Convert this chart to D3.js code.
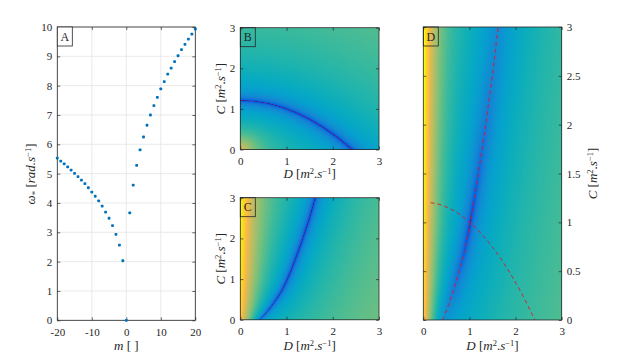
<!DOCTYPE html>
<html><head><meta charset="utf-8">
<script src="https://cdn.jsdelivr.net/npm/d3@7"></script>
<style>
body{margin:0;background:#fff}
svg text{font-family:"Liberation Serif","Times New Roman","DejaVu Serif",serif !important;fill:#262626}
</style>
</head><body>
<svg id="chart" width="618" height="360" font-family="Liberation Serif, serif"></svg>
<script>
// ---- Panel A data: mode number m and frequency omega_* ----
const modeNumbers = [-20,-19,-18,-17,-16,-15,-14,-13,-12,-11,-10,-9,-8,-7,-6,-5,-4,-3,-2,-1,0,1,2,3,4,5,6,7,8,9,10,11,12,13,14,15,16,17,18,19,20];
const omegaValues = [5.53,5.43,5.33,5.23,5.12,5.01,4.90,4.78,4.66,4.52,4.37,4.23,4.07,3.89,3.69,3.48,3.23,2.93,2.56,2.03,0,
                     3.66,4.61,5.28,5.81,6.25,6.65,7.00,7.32,7.60,7.89,8.14,8.39,8.60,8.82,9.02,9.23,9.41,9.59,9.76,9.93];
const ticksAx = [-20,-10,0,10,20];
const ticksAy = [0,1,2,3,4,5,6,7,8,9,10];

const curveB_D = [0,0.3,0.6,0.9,1.2,1.5,1.8,2.1,2.42];
const curveB_C = [1.21,1.19,1.136,1.043,0.912,0.745,0.541,0.299,0];
const curveC_D = [0.42,0.55,0.67,0.78,0.89,1.0,1.10,1.21,1.32,1.41,1.50,1.56,1.62];
const curveC_C = [0,0.16,0.33,0.51,0.70,0.95,1.22,1.55,1.89,2.20,2.51,2.75,3.0];
// dashed curves overlaid in panel D
const dashB_D = [0.16,0.3,0.6,0.9,1.2,1.5,1.8,2.1,2.42];
const dashB_C = [1.20,1.19,1.136,1.043,0.912,0.745,0.541,0.299,0];
const dashC_D = curveC_D;
const dashC_C = curveC_C;

const ticksBC = [0,1,2,3];
const ticksDy = [0,0.5,1,1.5,2,2.5,3];

// parula colormap (every other entry of the 64-step map)
const parulaPos = [0,2,4,6,8,10,12,14,16,18,20,22,24,26,28,30,32,34,36,38,40,42,44,46,48,50,52,54,56,58,60,62,63];
const parulaRGB = [[0.2081,0.1663,0.5292],[0.2123,0.2138,0.6270],[0.1959,0.2645,0.7279],[0.1253,0.3242,0.8303],[0.0117,0.3875,0.8820],[0.0165,0.4266,0.8786],[0.0498,0.4586,0.8641],[0.0723,0.4887,0.8467],[0.0793,0.5200,0.8312],[0.0641,0.5570,0.8240],[0.0343,0.5966,0.8199],[0.0239,0.6287,0.8038],[0.0228,0.6535,0.7768],[0.0384,0.6743,0.7436],[0.0843,0.6928,0.7062],[0.1453,0.7098,0.6646],[0.2178,0.7250,0.6193],[0.3022,0.7376,0.5712],[0.3953,0.7459,0.5244],[0.4871,0.7491,0.4840],[0.5709,0.7485,0.4494],[0.6473,0.7456,0.4188],[0.7184,0.7411,0.3905],[0.7858,0.7356,0.3633],[0.8507,0.7299,0.3360],[0.9139,0.7258,0.3063],[0.9739,0.7314,0.2666],[0.9990,0.7653,0.2164],[0.9880,0.8066,0.1794],[0.9697,0.8481,0.1475],[0.9589,0.8949,0.1132],[0.9661,0.9514,0.0755],[0.9763,0.9831,0.0538]];

const svg = d3.select("#chart");
const INK = "#262626";
const SERIF = '"Liberation Serif","Times New Roman",serif';

// scales
const xA = d3.scaleLinear([-20,20],[57.3,195.3]);
const yA = d3.scaleLinear([0,10],[320.3,27]);
const xB = d3.scaleLinear([0,3],[240.3,379]);
const yB = d3.scaleLinear([0,3],[149.5,27.7]);
const xC = d3.scaleLinear([0,3],[240.3,379]);
const yC = d3.scaleLinear([0,3],[319.8,197.7]);
const xD = d3.scaleLinear([0,3],[423.3,561.7]);
const yD = d3.scaleLinear([0,3],[320,27]);

// colormap LUT
const cscale = d3.scaleLinear().domain(parulaPos.map(p=>p/63))
  .range(parulaRGB.map(c=>d3.rgb(c[0]*255,c[1]*255,c[2]*255))).clamp(true);
const LUT = d3.range(512).map(i=>d3.rgb(cscale(i/511)));

// signed distance (data units) from point to polyline, ends extended
function signedDist(px,py,xs,ys){
  let best=Infinity,sgn=1;const n=xs.length;
  for(let k=0;k<n-1;k++){
    const ax=xs[k],ay=ys[k],dx=xs[k+1]-ax,dy=ys[k+1]-ay;
    let t=((px-ax)*dx+(py-ay)*dy)/(dx*dx+dy*dy);
    if(k>0&&t<0)t=0; if(k<n-2&&t>1)t=1;
    const d=Math.hypot(ax+t*dx-px,ay+t*dy-py);
    if(d<best){best=d;sgn=(dx*(py-ay)-dy*(px-ax))>=0?1:-1;}
  }
  return best*sgn;
}
const PXU = 46; // virtual px per data unit

function fieldB(D,C){
  const u = signedDist(D,C,curveB_D,curveB_C)*PXU; // + outside
  let t = 0.09*Math.log(Math.abs(u)+0.15)+0.11;
  if(u<0) t += 0.33*Math.exp(-Math.hypot(D,C)/0.33);
  return t;
}
function fieldC(D,C){
  const u = signedDist(D,C,curveC_D,curveC_C)*PXU;
  return 0.1*Math.log(Math.abs(u)+0.15)+0.12 + 0.48*Math.exp(-D/0.3);
}
function fieldD(D,C){
  const uc = signedDist(D,C,curveC_D,curveC_C)*PXU;
  const ub = signedDist(D,C,curveB_D,curveB_C)*PXU;
  const comb = Math.hypot(uc, 0.08*ub);
  return 0.1*Math.log(comb+0.3)+0.08 + 0.55*Math.exp(-D/0.24);
}

function heat(xS,yS,fn){
  const left=Math.round(xS.range()[0]), right=Math.round(xS.range()[1]);
  const top=Math.round(yS.range()[1]), bottom=Math.round(yS.range()[0]);
  const w=right-left,h=bottom-top;
  const cv=document.createElement("canvas");cv.width=w;cv.height=h;
  const ctx=cv.getContext("2d");const img=ctx.createImageData(w,h);
  for(let j=0;j<h;j++)for(let i=0;i<w;i++){
    const D=xS.invert(left+i+0.5),C=yS.invert(top+j+0.5);
    let t=fn(D,C); t=Math.max(0,Math.min(1,t));
    const c=LUT[Math.round(t*511)];const o=(j*w+i)*4;
    img.data[o]=c.r;img.data[o+1]=c.g;img.data[o+2]=c.b;img.data[o+3]=255;
  }
  ctx.putImageData(img,0,0);
  svg.append("image").attr("x",left).attr("y",top).attr("width",w).attr("height",h)
    .attr("preserveAspectRatio","none").attr("href",cv.toDataURL());
}

const fmt = d=>String(d);
function frame(xS,yS,xt,yt,rightLabels){
  const [xl,xr]=xS.range(),[yb,ytop]=yS.range();
  const style=g=>{g.attr("font-family",SERIF);g.select(".domain").remove();g.selectAll("line").attr("stroke",INK).attr("stroke-width",0.7);
    g.selectAll("text").style("font-size","11px").attr("fill",INK).style("font-family",SERIF);};
  svg.append("g").attr("transform",`translate(0,${yb})`).call(d3.axisBottom(xS).tickValues(xt).tickSize(-3).tickPadding(7.5).tickFormat(fmt)).call(style);
  svg.append("g").attr("transform",`translate(0,${ytop})`).call(d3.axisTop(xS).tickValues(xt).tickSize(-3).tickFormat("")).call(style);
  svg.append("g").attr("transform",`translate(${xl},0)`).call(d3.axisLeft(yS).tickValues(yt).tickSize(-3).tickPadding(5).tickFormat(rightLabels?"":fmt)).call(style);
  svg.append("g").attr("transform",`translate(${xr},0)`).call(d3.axisRight(yS).tickValues(yt).tickSize(-3).tickPadding(5).tickFormat(rightLabels?fmt:"")).call(style);
  svg.append("rect").attr("x",xl).attr("y",ytop).attr("width",xr-xl).attr("height",yb-ytop)
    .attr("fill","none").attr("stroke",INK).attr("stroke-width",0.8);
}
function tag(xS,yS,letter,fill){
  const x0=xS.range()[0],y0=yS.range()[1];
  svg.append("rect").attr("x",x0).attr("y",y0).attr("width",15).attr("height",19)
    .attr("fill",fill).attr("stroke",INK).attr("stroke-width",0.8);
  svg.append("text").attr("x",x0+7.5).attr("y",y0+13.5).attr("text-anchor","middle")
    .style("font-size","12px").style("font-family",SERIF).text(letter);
}
function unitLabel(sel,sym){
  const t=sel.append("text").attr("text-anchor","middle").style("font-size","13px").style("font-family",SERIF);
  t.append("tspan").style("font-style","italic").text(sym);
  t.append("tspan").text(" [");
  t.append("tspan").style("font-style","italic").text("m");
  t.append("tspan").attr("dy",-4.5).style("font-size","8.5px").text("2");
  t.append("tspan").attr("dy",4.5).text(".");
  t.append("tspan").style("font-style","italic").text("s");
  t.append("tspan").attr("dy",-4.5).style("font-size","8.5px").text("−1");
  t.append("tspan").attr("dy",4.5).text("]");
  return t;
}

// ---------- Panel A ----------
const gridA=svg.append("g");
gridA.selectAll("line.v").data(ticksAx).join("line").attr("x1",d=>xA(d)).attr("x2",d=>xA(d))
  .attr("y1",yA(0)).attr("y2",yA(10)).attr("stroke","#e4e4e4").attr("stroke-width",0.8);
gridA.selectAll("line.h").data(ticksAy).join("line").attr("y1",d=>yA(d)).attr("y2",d=>yA(d))
  .attr("x1",xA(-20)).attr("x2",xA(20)).attr("stroke","#e4e4e4").attr("stroke-width",0.8);
frame(xA,yA,ticksAx,ticksAy,false);
svg.append("g").selectAll("rect").data(modeNumbers).join("rect")
  .attr("x",d=>xA(d)-1.4).attr("y",(d,i)=>yA(omegaValues[i])-1.4).attr("width",2.8).attr("height",2.8)
  .attr("rx",0.8).attr("fill","#0072BD");
tag(xA,yA,"A","#fff");
{
  const t=svg.append("text").attr("text-anchor","middle").attr("transform","translate(35,174) rotate(-90)").style("font-size","13px").style("font-family",SERIF);
  t.append("tspan").style("font-style","italic").text("ω");
  t.append("tspan").attr("dy",3).style("font-size","9px").text("*");
  t.append("tspan").attr("dy",-3).text(" [");
  t.append("tspan").style("font-style","italic").text("rad.s");
  t.append("tspan").attr("dy",-4.5).style("font-size","8.5px").text("−1");
  t.append("tspan").attr("dy",4.5).text("]");
  const m=svg.append("text").attr("text-anchor","middle").attr("x",126.3).attr("y",350).style("font-size","13px").style("font-family",SERIF);
  m.append("tspan").style("font-style","italic").text("m");
  m.append("tspan").text(" [ ]");
}

// ---------- Panel B ----------
heat(xB,yB,fieldB);
frame(xB,yB,ticksBC,ticksBC,false);
tag(xB,yB,"B","none");
unitLabel(svg,"D").attr("x",309.6).attr("y",178);
unitLabel(svg,"C").attr("transform","translate(225,88.6) rotate(-90)");

// ---------- Panel C ----------
heat(xC,yC,fieldC);
frame(xC,yC,ticksBC,ticksBC,false);
tag(xC,yC,"C","none");
unitLabel(svg,"D").attr("x",309.6).attr("y",350);
unitLabel(svg,"C").attr("transform","translate(225,258.8) rotate(-90)");

// ---------- Panel D ----------
heat(xD,yD,fieldD);
const lineD=d3.line().x(d=>xD(d[0])).y(d=>yD(d[1])).curve(d3.curveCatmullRom);
svg.append("path").datum(dashB_D.map((d,i)=>[d,dashB_C[i]])).attr("d",lineD)
  .attr("fill","none").attr("stroke","#e0142a").attr("stroke-width",0.9).attr("stroke-dasharray","4,3");
svg.append("path").datum(dashC_D.map((d,i)=>[d,dashC_C[i]])).attr("d",lineD)
  .attr("fill","none").attr("stroke","#e0142a").attr("stroke-width",0.9).attr("stroke-dasharray","4,3");
frame(xD,yD,ticksBC,ticksDy,true);
tag(xD,yD,"D","none");
unitLabel(svg,"D").attr("x",492.5).attr("y",350);
unitLabel(svg,"C").attr("transform","translate(597,173.5) rotate(-90)");
</script>
</body></html>
